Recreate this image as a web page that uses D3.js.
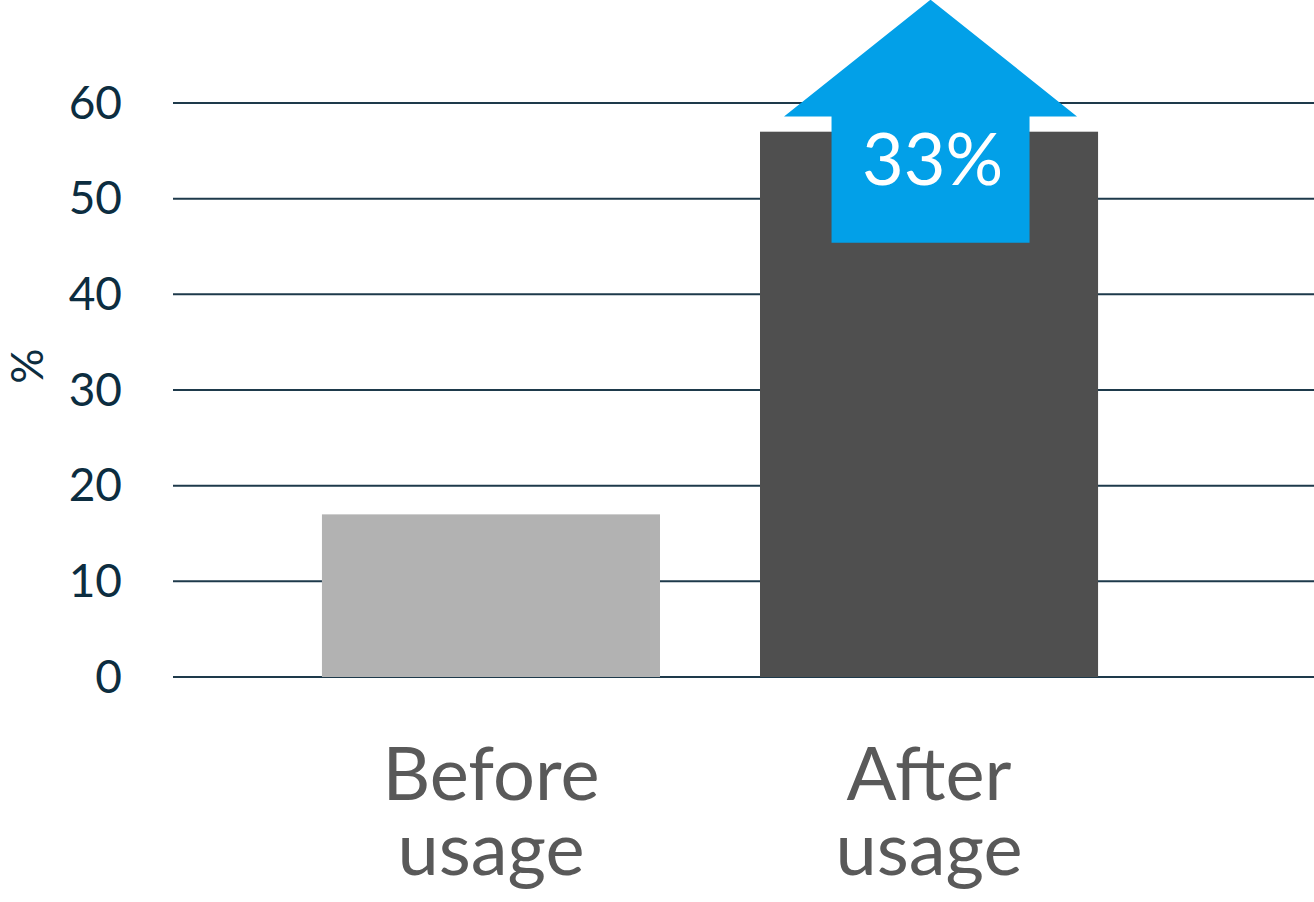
<!DOCTYPE html>
<html>
<head>
<meta charset="utf-8">
<script src="https://cdn.jsdelivr.net/npm/d3@7"></script>
<style>
  html, body { margin: 0; padding: 0; background: #fff; }
  svg { display: block; }
</style>
</head>
<body>
<svg id="chart" width="1314" height="902"></svg>
<script>
// ---- data ----
const categories = [["Before", "usage"], ["After", "usage"]];
const values = [17, 57];
const yTicks = [0, 10, 20, 30, 40, 50, 60];
const changeLabel = "33%";
const yAxisLabel = "%";

// ---- drawing ----
const svg = d3.select("#chart");
const W = 1314, H = 902;

const x = d3.scaleBand()
  .domain(d3.range(categories.length))
  .range([173, 1247])
  .paddingInner(0.2283)
  .paddingOuter(0.34);

const y = d3.scaleLinear().domain([0, 60]).range([677, 103]);

const font = "'Lato', 'Open Sans', sans-serif";

// gridlines
svg.append("g").selectAll("line").data(yTicks).join("line")
  .attr("x1", 173).attr("x2", W)
  .attr("y1", d => y(d)).attr("y2", d => y(d))
  .attr("stroke", "#1e3a4b").attr("stroke-width", 2);

// tick labels
svg.append("g").selectAll("text").data(yTicks).join("text")
  .attr("x", 122).attr("y", d => y(d) - 2)
  .attr("text-anchor", "end")
  .attr("dominant-baseline", "central")
  .attr("font-family", font)
  .attr("font-size", 46)
  .attr("fill", "#0c2d40")
  .text(d => d);

// y label
svg.append("text")
  .attr("transform", "translate(26,366) rotate(-90)")
  .attr("text-anchor", "middle")
  .attr("dominant-baseline", "central")
  .attr("font-family", font)
  .attr("font-size", 44)
  .attr("fill", "#0c2d40")
  .text(yAxisLabel);

// bars
const barColors = ["#b2b2b2", "#4f4f4f"];
svg.append("g").selectAll("rect").data(values).join("rect")
  .attr("x", (d, i) => x(i))
  .attr("width", x.bandwidth())
  .attr("y", d => y(d))
  .attr("height", d => y(0) - y(d))
  .attr("fill", (d, i) => barColors[i]);

// category labels (two lines each)
const lines = [];
categories.forEach((c, i) => c.forEach((t, j) => lines.push({ i, j, t })));
svg.append("g").selectAll("text").data(lines).join("text")
  .attr("x", d => x(d.i) + x.bandwidth() / 2)
  .attr("y", d => 800 + d.j * 75)
  .attr("text-anchor", "middle")
  .attr("font-family", font)
  .attr("font-size", 74)
  .attr("fill", "#595959")
  .text(d => d.t);

// arrow annotation on "After" bar
const cx = x(1) + x.bandwidth() / 2 + 1.5;
const shaftHalf = 99, headHalf = 146.5;
const shaftBottom = y(45.4), headBase = y(58.6), tip = y(70.8);
const arrowPath = d3.path();
arrowPath.moveTo(cx, tip);
arrowPath.lineTo(cx + headHalf, headBase);
arrowPath.lineTo(cx + shaftHalf, headBase);
arrowPath.lineTo(cx + shaftHalf, shaftBottom);
arrowPath.lineTo(cx - shaftHalf, shaftBottom);
arrowPath.lineTo(cx - shaftHalf, headBase);
arrowPath.lineTo(cx - headHalf, headBase);
arrowPath.closePath();
svg.append("path").attr("d", arrowPath.toString()).attr("fill", "#02a0e8");

svg.append("text")
  .attr("x", cx + 2).attr("y", 185)
  .attr("text-anchor", "middle")
  .attr("font-family", font)
  .attr("font-size", 72)
  .attr("fill", "#ffffff")
  .text(changeLabel);
</script>
</body>
</html>
